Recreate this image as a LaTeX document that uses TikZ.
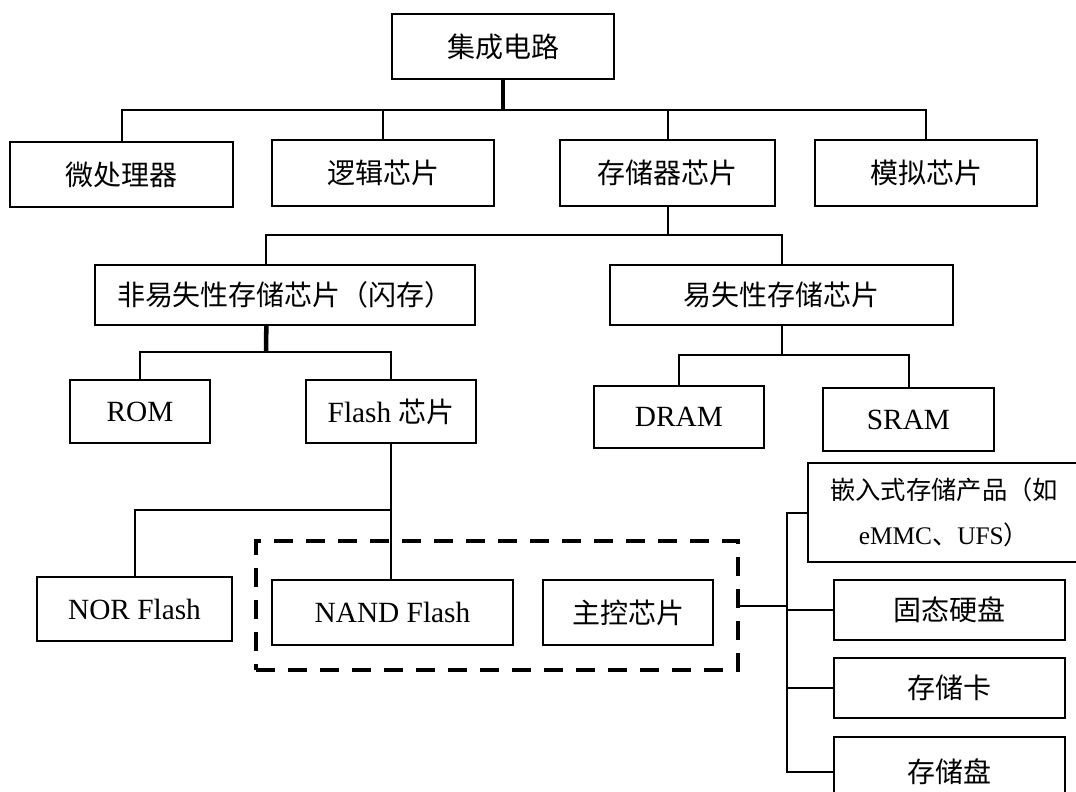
\documentclass[tikz,border=0pt]{standalone}
\usepackage{fontspec}
\setmainfont{Liberation Serif}
\newfontfamily\cjk{Noto Sans CJK SC}
\usetikzlibrary{positioning, calc}

\begin{document}
\begin{tikzpicture}[x=0.75pt, y=-0.75pt,
    box/.style={draw, line width=1.6pt, inner sep=0pt, font=\fontsize{21}{25}\selectfont},
    latin/.style={font=\fontsize{22}{26}\selectfont},
    link/.style={line width=1.5pt},
    stub/.style={line width=3.4pt},
    group/.style={draw, dashed, line width=3.6pt, dash pattern=on 14pt off 10pt}]
\useasboundingbox (0,0) rectangle (1076,792);
\clip (0,0) rectangle (1076,792);

% Top level
\node[box, minimum width=166.5pt, minimum height=48.75pt] (ic) at (503,46.5) {\cjk 集成电路};
\node[box, minimum width=167pt, minimum height=48.75pt] (mp) at (121.5,174.5) {\cjk 微处理器};
\node[box, minimum width=166.5pt, minimum height=49.5pt] (logic) at (383,173) {\cjk 逻辑芯片};
\node[box, minimum width=161pt, minimum height=49.5pt] (mem) at (667.5,173) {\cjk 存储器芯片};
\node[box, minimum width=166.5pt, minimum height=49.5pt] (analog) at (926,173) {\cjk 模拟芯片};

% Memory chips
\node[box, minimum width=285pt, minimum height=45pt] (nv) at (285,295) {\cjk 非易失性存储芯片（闪存）};
\node[box, minimum width=257pt, minimum height=45pt] (vol) at (781.5,295) {\cjk 易失性存储芯片};
\node[box, latin, minimum width=105pt, minimum height=47pt] (rom) at (140,411.5) {ROM};
\node[box, minimum width=127.5pt, minimum height=47pt] (flash) at (391,411.5) {{\fontsize{22}{26}\selectfont Flash} {\cjk 芯片}};
\node[box, latin, minimum width=127.5pt, minimum height=46.5pt] (dram) at (679,417) {DRAM};
\node[box, latin, minimum width=128pt, minimum height=47pt] (sram) at (908.5,419.5) {SRAM};

% Flash types
\node[box, latin, minimum width=146pt, minimum height=48pt] (nor) at (134.5,609) {NOR Flash};
\node[group, minimum width=361.5pt, minimum height=96.75pt] (grp) at (497,605.5) {};
\node[box, latin, minimum width=180.5pt, minimum height=48.75pt] (nand) at (392.5,612.5) {NAND Flash};
\node[box, minimum width=127.5pt, minimum height=48.75pt] (ctrl) at (628,612.5) {\cjk 主控芯片};

% Storage products
\node[box, minimum width=204pt, minimum height=74pt, align=center,
      font=\fontsize{19}{34}\selectfont] (emb) at (944,512.5)
      {{\cjk 嵌入式存储产品（如}\\eMMC{\cjk 、}UFS{\cjk ）}};
\node[box, minimum width=173pt, minimum height=45pt] (ssd) at (949.5,610) {\cjk 固态硬盘};
\node[box, minimum width=173pt, minimum height=45pt] (card) at (949.5,688) {\cjk 存储卡};
\node[box, minimum width=173pt, minimum height=52pt] (disk) at (949.5,772) {\cjk 存储盘};

% Tree links
\coordinate (j1) at (503,110);
\draw[stub] (ic.south) -- (j1);
\draw[link] (j1) -| (mp.north);
\draw[link] (j1) -| (logic.north);
\draw[link] (j1) -| (mem.north);
\draw[link] (j1) -| (analog.north);

\coordinate (j2) at (667.5,235);
\draw[link] (mem.south) -- (j2);
\draw[link] (j2) -| ([xshift=-14pt]nv.north);
\draw[link] (j2) -| (vol.north);

\coordinate (j3) at (266,352);
\draw[stub] ([xshift=-14pt]nv.south) -- (j3);
\draw[link] (j3) -| (rom.north);
\draw[link] (j3) -| (flash.north);

\coordinate (j4) at (781.5,355);
\draw[link] (vol.south) -- (j4);
\draw[link] (j4) -| (dram.north);
\draw[link] (j4) -| (sram.north);

\coordinate (j5) at (391,510);
\draw[link] (flash.south) -- (flash.south |- nand.north);
\draw[link] (j5) -| (nor.north);

\coordinate (tk) at (787,605.5);
\draw[link] (grp.east) -- (tk);
\draw[link] (emb.west) -| (tk) |- (disk.west);
\foreach \n in {ssd, card}
  \draw[link] (tk |- \n.west) -- (\n.west);
\end{tikzpicture}
\end{document}
